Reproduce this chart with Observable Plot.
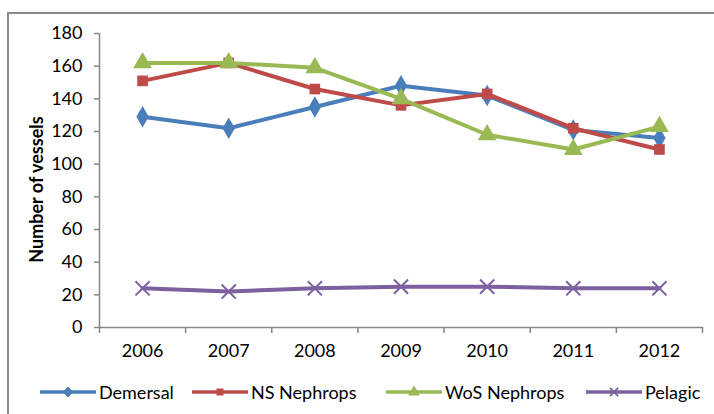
<!DOCTYPE html>
<html>
<head>
<meta charset="utf-8">
<script src="https://cdn.jsdelivr.net/npm/d3@7"></script>
<script src="https://cdn.jsdelivr.net/npm/@observablehq/plot@0.6"></script>
<style>
  html, body { margin: 0; padding: 0; background: #fff; }
  body { width: 714px; height: 414px; position: relative; overflow: hidden; font-family: Lato, "Open Sans", sans-serif; }
  #frame { position: absolute; left: 7px; top: 12px; width: 720px; height: 420px; border-left: 2px solid #8a8a8a; border-top: 2px solid #8a8a8a; box-sizing: border-box; pointer-events: none; }
  #chart { position: absolute; left: 0; top: 0; }
  #legend { position: absolute; left: 0; top: 374px; width: 714px; height: 40px; }
  .item { position: absolute; top: 6px; display: flex; align-items: center; font-size: 18px; color: #000; }
  .item svg { margin-right: 3px; }
</style>
</head>
<body>
<div id="chart"></div>
<div id="legend"></div>
<div id="frame"></div>
<script>
const years = [2006, 2007, 2008, 2009, 2010, 2011, 2012];
const seriesNames = ["Demersal", "NS Nephrops", "WoS Nephrops", "Pelagic"];
const demersal = [129, 122, 135, 148, 142, 121, 116];
const nsNephrops = [151, 162, 146, 136, 143, 122, 109];
const wosNephrops = [162, 162, 159, 140, 118, 109, 123];
const pelagic = [24, 22, 24, 25, 25, 24, 24];
const yTicks = [0, 20, 40, 60, 80, 100, 120, 140, 160, 180];
const yLabel = "Number of vessels";

const colors = ["#4A7EBB", "#BE4B48", "#98B954", "#7D60A0"];
const symbols = ["diamond", "square", "triangle", "times"];
const radii = [6.5, 6, 7, 6.5];
const values = [demersal, nsNephrops, wosNephrops, pelagic];

const rows = [];
seriesNames.forEach((s, i) => years.forEach((y, j) => rows.push({series: s, idx: i, year: y, value: values[i][j]})));

const boundaries = d3.range(years.length + 1).map(k => years[0] - 0.5 + k);
const axisColor = "#868686";

const marks = [
  Plot.ruleY([0], {stroke: axisColor, strokeWidth: 1.5}),
  Plot.ruleX([boundaries[0]], {stroke: axisColor, strokeWidth: 1.5}),
  Plot.axisX(boundaries, {tickSize: 6, tickFormat: () => "", stroke: axisColor, strokeWidth: 1.5, label: null}),
  Plot.axisX(years, {tickSize: 0, tickPadding: 17, tickFormat: "d", fontSize: 18, fill: "#000", label: null}),
  Plot.axisY(yTicks, {tickSize: 5, tickPadding: 12, stroke: axisColor, strokeWidth: 1.5, fontSize: 18, fill: "#000", label: null}),
  Plot.text([yLabel], {frameAnchor: "left", textAnchor: "middle", dx: -62, dy: 9, rotate: -90, fontSize: 18, fontWeight: "bold", fill: "#000"})
];

seriesNames.forEach((s, i) => {
  const d = rows.filter(r => r.series === s);
  marks.push(Plot.line(d, {x: "year", y: "value", stroke: colors[i], strokeWidth: 4, strokeLinejoin: "round"}));
  if (symbols[i] === "times") {
    marks.push(Plot.dot(d, {x: "year", y: "value", symbol: "times", r: radii[i], stroke: colors[i], strokeWidth: 2}));
  } else {
    marks.push(Plot.dot(d, {x: "year", y: "value", symbol: symbols[i], r: radii[i], fill: colors[i], stroke: "none"}));
  }
});

const chart = Plot.plot({
  width: 714,
  height: 374,
  marginTop: 33,
  marginBottom: 47,
  marginLeft: 99,
  marginRight: 12,
  style: {fontFamily: "Lato, 'Open Sans', sans-serif", background: "transparent"},
  x: {domain: [boundaries[0], boundaries[boundaries.length - 1]], axis: null},
  y: {domain: [0, 180], axis: null},
  marks
});
document.getElementById("chart").appendChild(chart);

// legend
const legendX = [40, 192, 386, 586];
const legend = d3.select("#legend");
seriesNames.forEach((s, i) => {
  const item = legend.append("div").attr("class", "item").style("left", legendX[i] + "px");
  const svg = item.append("svg").attr("width", 56).attr("height", 24);
  svg.append("line").attr("x1", 0).attr("x2", 56).attr("y1", 12).attr("y2", 12)
    .attr("stroke", colors[i]).attr("stroke-width", 3.5);
  const symType = [d3.symbolDiamond2, d3.symbolSquare, d3.symbolTriangle, d3.symbolTimes][i];
  const sym = d3.symbol(symType, [60, 50, 60, 45][i]);
  const p = svg.append("path").attr("d", sym()).attr("transform", "translate(28,12)");
  if (i === 3) p.attr("fill", "none").attr("stroke", colors[i]).attr("stroke-width", 1.8);
  else if (i === 0) p.attr("fill", colors[i]).attr("stroke", colors[i]).attr("stroke-width", 1);
  else p.attr("fill", colors[i]);
  item.append("span").text(s);
});
</script>
</body>
</html>
